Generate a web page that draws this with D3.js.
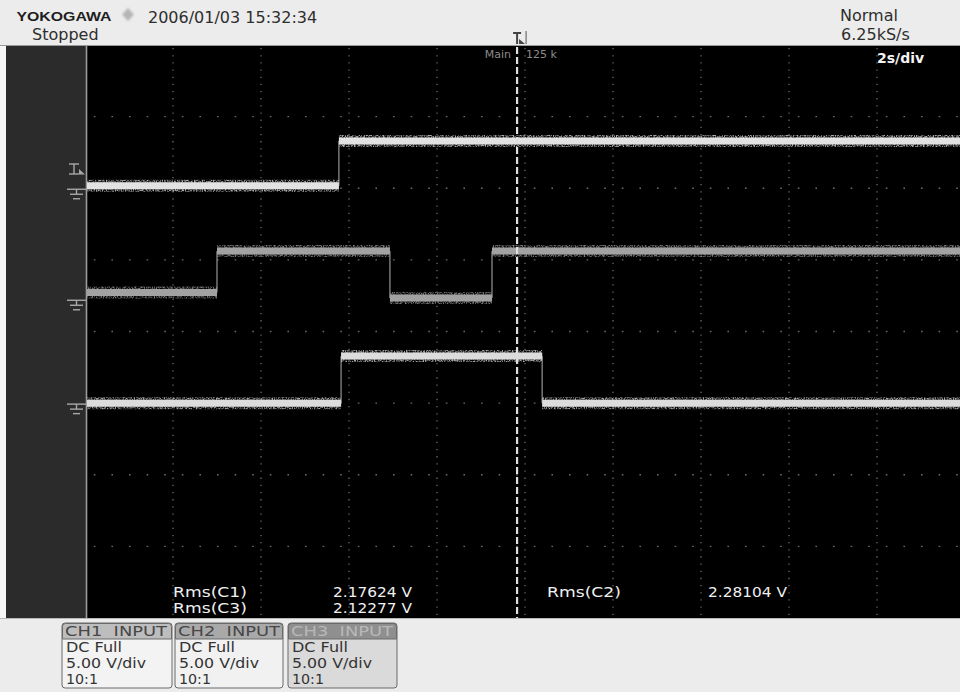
<!DOCTYPE html>
<html><head><meta charset="utf-8">
<script src="https://cdn.jsdelivr.net/npm/d3@7/dist/d3.min.js"></script>
<style>html,body{margin:0;padding:0;background:#ececec;}svg{display:block}</style>
</head><body><svg id="c" width="960" height="692"></svg>
<script>
// ---------- data ----------
const brand = "YOKOGAWA";
const dateText = "2006/01/03 15:32:34";
const runState = "Stopped";
const trigMode = "Normal";
const sampleRate = "6.25kS/s";
const timeDiv = "2s/div";
const recordLabel = ["Main", "125 k"];
const timeSpan = [0, 20];            // seconds across screen (10 div x 2 s)
const timeGrid = [2, 4, 6, 8, 10, 12, 14, 16, 18];
const divGrid = [-3, -2, -1, 0, 1, 2, 3];
const triggerTime = 9.82;
const channelNames = ["CH1", "CH2", "CH3"];
const channelPos = [2.0, 0.45, -1.0];  // ground position, divisions
const voltsPerDiv = [5, 5, 5];
const ch1Edges = [0, 5.77, 20];
const ch1Levels = [0.18, 3.30];
const ch2Edges = [0, 3.00, 6.93, 9.25, 20];
const ch2Levels = [0.47, 3.37, 0.09, 3.37];
const ch3Edges = [0, 5.82, 10.39, 20];
const ch3Levels = [0.0, 3.29, 0.0];
const measLabels = ["Rms(C1)", "Rms(C3)", "Rms(C2)"];
const measValues = ["2.17624 V", "2.12277 V", "2.28104 V"];
const boxCoupling = ["DC Full", "DC Full", "DC Full"];
const boxScale = ["5.00 V/div", "5.00 V/div", "5.00 V/div"];
const boxProbe = ["10:1", "10:1", "10:1"];

// ---------- styles/layout ----------
const scr = {x0: 87, x1: 960, y0: 45, y1: 618};
const traceColor = ["#e2e2e2", "#a2a2a2", "#dcdcdc"];
const svg = d3.select("#c");
const F = "'DejaVu Sans', Verdana, sans-serif";

const x = d3.scaleLinear().domain(timeSpan).range([85, 965]);
const yDiv = d3.scaleLinear().domain([-4, 4]).range([618, 45]);

// defs
const defs = svg.append("defs");
defs.append("clipPath").attr("id", "scr").append("rect")
  .attr("x", scr.x0).attr("y", scr.y0 + 1).attr("width", scr.x1 - scr.x0).attr("height", scr.y1 - scr.y0 - 1);
const filt = defs.append("filter").attr("id", "fuzz").attr("filterUnits", "userSpaceOnUse")
  .attr("x", 0).attr("y", 0).attr("width", 960).attr("height", 692);
filt.append("feTurbulence").attr("type", "fractalNoise").attr("baseFrequency", "0.9 0.6")
  .attr("numOctaves", 1).attr("seed", 4).attr("result", "n");
filt.append("feColorMatrix").attr("in", "n").attr("type", "matrix")
  .attr("values", "0 0 0 0 1  0 0 0 0 1  0 0 0 0 1  3.2 0 0 0 -1.2").attr("result", "m");
filt.append("feComposite").attr("in", "SourceGraphic").attr("in2", "m").attr("operator", "in");
const blur = defs.append("filter").attr("id", "soft");
blur.append("feGaussianBlur").attr("stdDeviation", 0.8);

// backgrounds
svg.append("rect").attr("width", 960).attr("height", 692).attr("fill", "#ececec");
svg.append("rect").attr("x", 0).attr("y", scr.y0).attr("width", 6).attr("height", scr.y1 - scr.y0).attr("fill", "#f6f6f6");
svg.append("rect").attr("x", 6).attr("y", scr.y0).attr("width", scr.x0 - 6).attr("height", scr.y1 - scr.y0).attr("fill", "#2b2b2b");
svg.append("rect").attr("x", scr.x0).attr("y", scr.y0).attr("width", scr.x1 - scr.x0).attr("height", scr.y1 - scr.y0).attr("fill", "#000");
svg.append("line").attr("x1", 0).attr("x2", 960).attr("y1", scr.y0 + 0.5).attr("y2", scr.y0 + 0.5).attr("stroke", "#9a9a9a");
svg.append("line").attr("x1", 0).attr("x2", 960).attr("y1", scr.y1 + 0.5).attr("y2", scr.y1 + 0.5).attr("stroke", "#b8b8b8");
svg.append("line").attr("x1", 86.5).attr("x2", 86.5).attr("y1", scr.y0).attr("y2", scr.y1).attr("stroke", "#9c9c9c").attr("stroke-width", 1.6);

const screen = svg.append("g").attr("clip-path", "url(#scr)");

// grid
screen.selectAll(".vg").data(timeGrid).join("line")
  .attr("x1", d => x(d)).attr("x2", d => x(d))
  .attr("y1", scr.y0 + 3).attr("y2", scr.y1)
  .attr("stroke", "#6a6a6a").attr("stroke-width", 1.3).attr("stroke-dasharray", "1.3,5.86");
screen.selectAll(".hg").data(divGrid).join("line")
  .attr("x1", x(0) + 8.8).attr("x2", scr.x1)
  .attr("y1", d => yDiv(d)).attr("y2", d => yDiv(d))
  .attr("stroke", "#6a6a6a").attr("stroke-width", 1.4).attr("stroke-dasharray", "1.6,16");

// traces
const chans = [
  {edges: ch1Edges, levels: ch1Levels},
  {edges: ch2Edges, levels: ch2Levels},
  {edges: ch3Edges, levels: ch3Levels}
];
chans.forEach((c, i) => {
  const yv = v => yDiv(channelPos[i] + v / voltsPerDiv[i]);
  const segs = c.levels.map((v, k) => ({t0: c.edges[k], t1: c.edges[k + 1], v}));
  const jumps = c.levels.slice(1).map((v, k) => ({t: c.edges[k + 1], a: c.levels[k], b: v}));
  const g = screen.append("g");
  g.selectAll(".j").data(jumps).join("line")
    .attr("x1", d => x(d.t)).attr("x2", d => x(d.t))
    .attr("y1", d => yv(d.a)).attr("y2", d => yv(d.b))
    .attr("stroke", "#8a8a8a").attr("stroke-width", 1.3);
  g.selectAll(".f").data(segs).join("line")
    .attr("x1", d => x(d.t0)).attr("x2", d => x(d.t1))
    .attr("y1", d => yv(d.v)).attr("y2", d => yv(d.v))
    .attr("stroke", traceColor[i]).attr("stroke-width", 12).attr("opacity", 0.75)
    .attr("filter", "url(#fuzz)");
  g.selectAll(".s").data(segs).join("line")
    .attr("x1", d => x(d.t0)).attr("x2", d => x(d.t1))
    .attr("y1", d => yv(d.v)).attr("y2", d => yv(d.v))
    .attr("stroke", traceColor[i]).attr("stroke-width", 7);
});

// trigger line
screen.append("line").attr("x1", x(triggerTime)).attr("x2", x(triggerTime))
  .attr("y1", scr.y0 + 2).attr("y2", scr.y1)
  .attr("stroke", "#dedede").attr("stroke-width", 2.2).attr("stroke-dasharray", "7,3");

// screen labels
svg.append("text").attr("x", x(triggerTime) - 6).attr("y", 57.5).attr("text-anchor", "end")
  .attr("font-family", F).attr("font-size", 11).attr("fill", "#8c8c8c").text(recordLabel[0]);
svg.append("text").attr("x", x(triggerTime) + 9).attr("y", 57.5)
  .attr("font-family", F).attr("font-size", 11).attr("fill", "#8c8c8c").text(recordLabel[1]);
svg.append("text").attr("x", 877).attr("y", 63).attr("font-family", F).attr("font-weight", "bold")
  .attr("font-size", 14).attr("fill", "#f4f4f4").text(timeDiv);

// measurements
const measPos = [[173, 333, 597], [173, 333, 612.7], [547, 708, 597]];
measLabels.forEach((m, i) => {
  svg.append("text").attr("x", measPos[i][0]).attr("y", measPos[i][2]).attr("font-family", F)
    .attr("font-size", 13.5).attr("fill", "#f0f0f0").attr("textLength", 74).attr("lengthAdjust", "spacingAndGlyphs").text(m);
  svg.append("text").attr("x", measPos[i][1]).attr("y", measPos[i][2]).attr("font-family", F)
    .attr("font-size", 13.5).attr("fill", "#f0f0f0").attr("textLength", 79).attr("lengthAdjust", "spacingAndGlyphs").text(measValues[i]);
});

// top bar
svg.append("text").attr("x", 16.5).attr("y", 21).attr("font-family", "'Liberation Sans', Arial, sans-serif")
  .attr("font-weight", "bold").attr("font-size", 13.5).attr("fill", "#1e1e1e")
  .attr("textLength", 95).attr("lengthAdjust", "spacingAndGlyphs").text(brand);
svg.append("path").attr("d", "M128,8 L134,14.5 L128,21 L122,14.5 Z").attr("fill", "#b5b5b5").attr("filter", "url(#soft)");
svg.append("text").attr("x", 148).attr("y", 23.3).attr("font-family", F).attr("font-size", 16).attr("fill", "#2e2e2e").text(dateText);
svg.append("text").attr("x", 32).attr("y", 39.5).attr("font-family", F).attr("font-size", 16).attr("fill", "#2e2e2e").text(runState);
svg.append("text").attr("x", 840).attr("y", 21).attr("font-family", F).attr("font-size", 16).attr("fill", "#2e2e2e").text(trigMode);
svg.append("text").attr("x", 841).attr("y", 40).attr("font-family", F).attr("font-size", 16).attr("fill", "#2e2e2e").text(sampleRate);

// trigger position marker (top)
const tx = x(triggerTime);
const tm = svg.append("g").attr("stroke", "#444").attr("fill", "none").attr("stroke-width", 2);
tm.append("line").attr("x1", tx - 4).attr("x2", tx + 4).attr("y1", 33).attr("y2", 33);
tm.append("line").attr("x1", tx).attr("x2", tx).attr("y1", 33).attr("y2", 44);
svg.append("path").attr("d", `M${tx + 2},39 L${tx + 8},44 L${tx + 2},44 Z`).attr("fill", "#444");
svg.append("line").attr("x1", tx + 9).attr("x2", tx + 9).attr("y1", 31).attr("y2", 44).attr("stroke", "#555").attr("stroke-width", 1);

// left panel markers
const lp = svg.append("g").attr("stroke", "#a8a8a8").attr("stroke-width", 1.4);
const ty = 169;
lp.append("line").attr("x1", 69).attr("x2", 79).attr("y1", ty - 5).attr("y2", ty - 5);
lp.append("line").attr("x1", 74).attr("x2", 74).attr("y1", ty - 5).attr("y2", ty + 5);
lp.append("line").attr("x1", 69).attr("x2", 79).attr("y1", ty + 5).attr("y2", ty + 5);
svg.append("path").attr("d", `M79,${ty + 5.5} L85,${ty + 5.5} L79,${ty} Z`).attr("fill", "#a8a8a8");
channelPos.forEach(p => {
  const gy = yDiv(p) + 1;
  lp.append("line").attr("x1", 67).attr("x2", 86).attr("y1", gy).attr("y2", gy);
  lp.append("line").attr("x1", 76.5).attr("x2", 76.5).attr("y1", gy).attr("y2", gy + 5);
  lp.append("line").attr("x1", 70).attr("x2", 83).attr("y1", gy + 5).attr("y2", gy + 5);
  lp.append("line").attr("x1", 73).attr("x2", 80).attr("y1", gy + 9.5).attr("y2", gy + 9.5);
});

// channel boxes
const boxX = [62, 175, 288];
const boxW = [110, 108, 109];
const headFill = ["#bdbdbd", "#a9a9a9", "#8f8f8f"];
const headText = ["#474747", "#474747", "#b8b8b8"];
const bodyFill = ["#f3f3f3", "#f1f1f1", "#dadada"];
channelNames.forEach((n, i) => {
  const g = svg.append("g").attr("transform", `translate(${boxX[i]},623)`);
  g.append("rect").attr("width", boxW[i]).attr("height", 65).attr("rx", 3).attr("fill", bodyFill[i]).attr("stroke", "#6a6a6a");
  g.append("path").attr("d", `M0.5,3.5 Q0.5,0.5 3.5,0.5 L${boxW[i] - 3.5},0.5 Q${boxW[i] - 0.5},0.5 ${boxW[i] - 0.5},3.5 L${boxW[i] - 0.5},16 L0.5,16 Z`)
    .attr("fill", headFill[i]).attr("stroke", "#6a6a6a");
  g.append("text").attr("x", 3).attr("y", 13).attr("font-family", F).attr("font-size", 13.5)
    .attr("fill", headText[i]).attr("textLength", 102).attr("lengthAdjust", "spacingAndGlyphs").attr("xml:space", "preserve").text(n + "  INPUT");
  g.append("text").attr("x", 4).attr("y", 29).attr("font-family", F).attr("font-size", 14).attr("fill", "#333")
    .attr("textLength", 56).attr("lengthAdjust", "spacingAndGlyphs").text(boxCoupling[i]);
  g.append("text").attr("x", 4).attr("y", 44.5).attr("font-family", F).attr("font-size", 14).attr("fill", "#333")
    .attr("textLength", 80).attr("lengthAdjust", "spacingAndGlyphs").text(boxScale[i]);
  g.append("text").attr("x", 4).attr("y", 61).attr("font-family", F).attr("font-size", 14).attr("fill", "#333")
    .attr("textLength", 32).attr("lengthAdjust", "spacingAndGlyphs").text(boxProbe[i]);
});
</script></body></html>
